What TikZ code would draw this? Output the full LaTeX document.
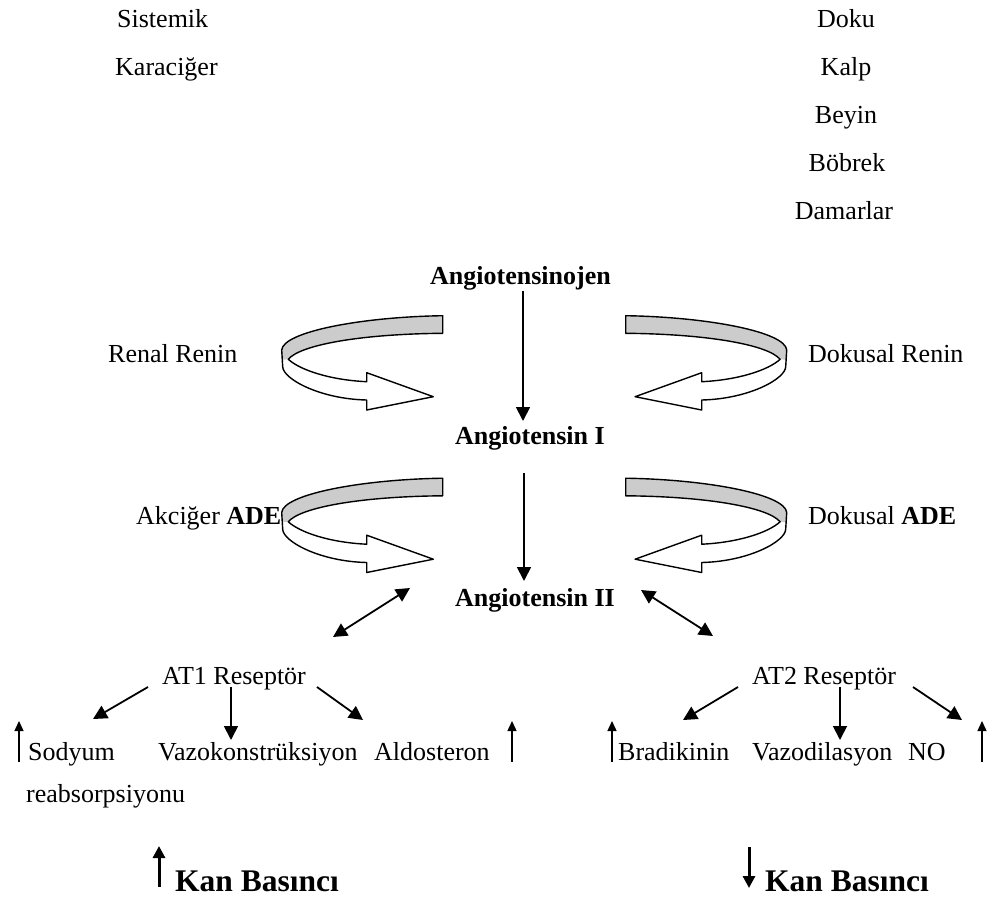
\documentclass[tikz,border=0pt]{standalone}
\usepackage{fontspec}
\setmainfont{Liberation Serif}
\usetikzlibrary{arrows.meta}
\definecolor{ribbongray}{RGB}{204,204,204}
\newcommand\ribbonarrow{%
  \fill[ribbongray] (0,0) .. controls (-82.7,1.3) and (-159.7,16.3) .. (-161,34.3)
     -- (-160.5,44) -- (-154.4,43.6)
     .. controls (-142.7,29.3) and (-82.7,18.3) .. (0,17.6) -- cycle;
  \draw[rib] (0,0) .. controls (-82.7,1.3) and (-159.7,16.3) .. (-161,34.3)
     -- (-160,51) .. controls (-159.7,63.3) and (-122.7,83.3) .. (-76,84.3)
     -- (-76,94.3) -- (-9.4,81) -- (-76,57) -- (-76,66)
     .. controls (-112.7,64.3) and (-142.7,54.3) .. (-154.4,43.6)
     .. controls (-142.7,29.3) and (-82.7,18.3) .. (0,17.6) -- cycle;
}
\begin{document}
\begin{tikzpicture}[x=1pt,y=-1pt,
  txt/.style={inner sep=0pt, anchor=base west, font=\fontsize{26}{30}\selectfont},
  btxt/.style={inner sep=0pt, anchor=base west, font=\fontsize{26}{30}\selectfont\bfseries},
  big/.style={inner sep=0pt, anchor=base west, font=\fontsize{31.5}{36}\selectfont\bfseries},
  arr/.style={line width=1.8pt, -{Triangle[length=14pt,width=14pt]}},
  darr/.style={line width=1.8pt, {Triangle[length=14pt,width=14pt]}-{Triangle[length=14pt,width=14pt]}},
  uparr/.style={line width=1.4pt, -{Triangle[length=10pt,width=9pt]}},
  kanarr/.style={line width=3pt, -{Triangle[length=12pt,width=12pt]}},
  rib/.style={line width=1.4pt, line join=round}]
\useasboundingbox (0,0) rectangle (994,897);

% top lists
\node[txt] (sis) at (117,27) {Sistemik};
\node[txt] (kar) at (115,75) {Karaciğer};
\node[txt,anchor=base] (dok) at (846,27) {Doku};
\node[txt,anchor=base] (kal) at (846,75) {Kalp};
\node[txt,anchor=base] (bey) at (846,123) {Beyin};
\node[txt,anchor=base] (bob) at (847,171) {Böbrek};
\node[txt,anchor=base] (dam) at (844,219) {Damarlar};

% central cascade
\node[btxt] (ajen) at (430,284) {Angiotensinojen};
\node[btxt] (a1) at (455,444) {Angiotensin I};
\node[btxt] (a2) at (455,606) {Angiotensin II};

\node[txt] (rr) at (108,362.7) {Renal Renin};
\node[txt] (dr) at (808,362.7) {Dokusal Renin};
\node[txt] (ak) at (136,524) {Akciğer \textbf{ADE}};
\node[txt] (da) at (808,524) {Dokusal \textbf{ADE}};

\coordinate (v1s) at (523,291);
\coordinate (v1e) at (523,421);
\coordinate (v2s) at (524,473);
\coordinate (v2e) at (524,581);
\draw[arr] (v1s) -- (v1e);
\draw[arr] (v2s) -- (v2e);

% curved ribbon arrows
\begin{scope}[shift={(442.7,315.7)}]\ribbonarrow\end{scope}
\begin{scope}[shift={(442.7,478.2)}]\ribbonarrow\end{scope}
\begin{scope}[shift={(625.7,315.7)},xscale=-1]\ribbonarrow\end{scope}
\begin{scope}[shift={(625.7,478.2)},xscale=-1]\ribbonarrow\end{scope}

% receptors
\node[txt] (at1) at (162,684) {AT1 Reseptör};
\node[txt] (at2) at (752,684) {AT2 Reseptör};
\coordinate (d1a) at (410,588);
\coordinate (d1b) at (333,637);
\coordinate (d2a) at (641,590);
\coordinate (d2b) at (713,636);
\draw[darr] (d1a) -- (d1b);
\draw[darr] (d2a) -- (d2b);

% effects AT1
\node[txt] (sod) at (28,760) {Sodyum};
\node[txt] (reab) at (26,802) {reabsorpsiyonu};
\node[txt] (vk) at (158,760) {Vazokonstrüksiyon};
\node[txt] (ald) at (374,760) {Aldosteron};
\coordinate (s1) at (148,687); \coordinate (e1) at (93,719);
\coordinate (s2) at (231,687); \coordinate (e2) at (231,740);
\coordinate (s3) at (317,687); \coordinate (e3) at (363,720);
\draw[arr] (s1) -- (e1);
\draw[arr] (s2) -- (e2);
\draw[arr] (s3) -- (e3);
\coordinate (u1s) at (19,762); \coordinate (u1e) at (19,721);
\coordinate (u2s) at (512,762); \coordinate (u2e) at (512,721);
\draw[uparr] (u1s) -- (u1e);
\draw[uparr] (u2s) -- (u2e);

% effects AT2
\node[txt] (bra) at (618,760) {Bradikinin};
\node[txt] (vd) at (752,760) {Vazodilasyon};
\node[txt] (no) at (908,760) {NO};
\coordinate (s4) at (738,687); \coordinate (e4) at (683,720);
\coordinate (s5) at (840,687); \coordinate (e5) at (840,740);
\coordinate (s6) at (913,687); \coordinate (e6) at (962,720);
\draw[arr] (s4) -- (e4);
\draw[arr] (s5) -- (e5);
\draw[arr] (s6) -- (e6);
\coordinate (u3s) at (612,762); \coordinate (u3e) at (612,721);
\coordinate (u4s) at (982,762); \coordinate (u4e) at (982,721);
\draw[uparr] (u3s) -- (u3e);
\draw[uparr] (u4s) -- (u4e);

% blood pressure
\node[big] (kb1) at (175,891) {Kan Basıncı};
\node[big] (kb2) at (765,891) {Kan Basıncı};
\coordinate (k1s) at (159,887); \coordinate (k1e) at (159,846);
\coordinate (k2s) at (749,847); \coordinate (k2e) at (749,888);
\draw[kanarr] (k1s) -- (k1e);
\draw[kanarr] (k2s) -- (k2e);
\end{tikzpicture}
\end{document}
